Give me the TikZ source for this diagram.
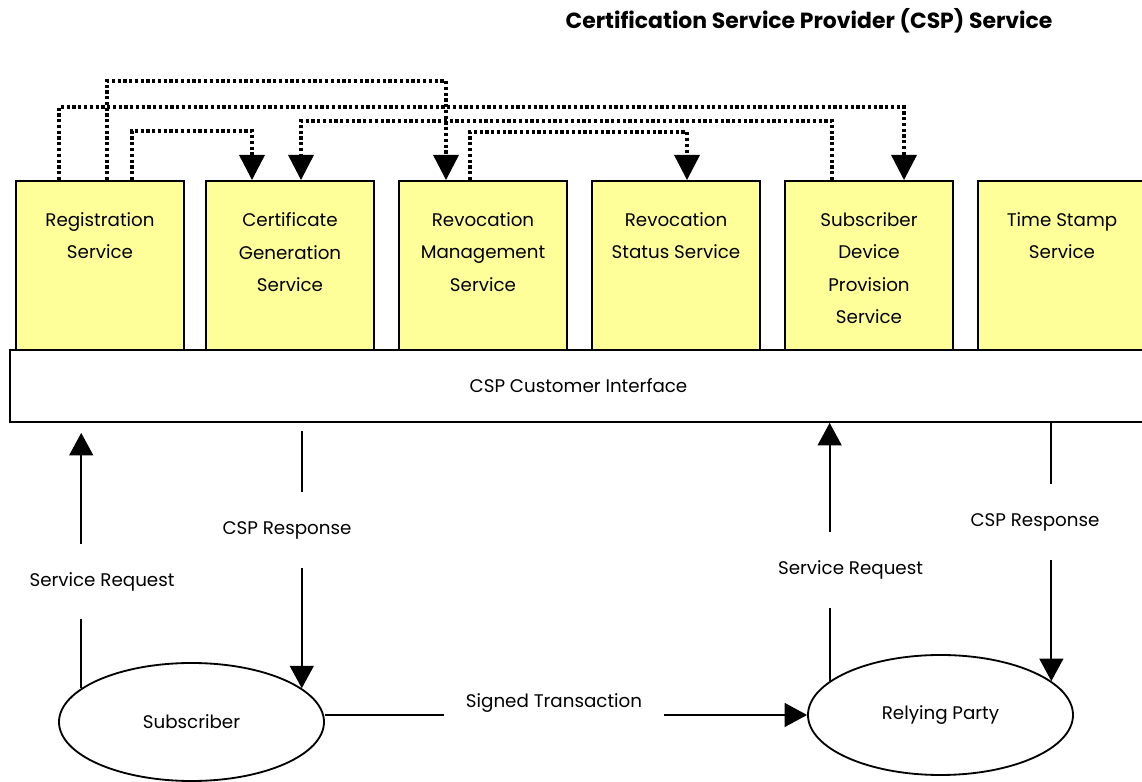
\documentclass[tikz,border=0pt]{standalone}
\usepackage{fontspec}
\setmainfont{Poppins}
\usepackage{tikz}
\usetikzlibrary{arrows.meta,shapes.geometric}
\definecolor{svcyellow}{RGB}{255,255,153}
\newcommand{\svctext}[1]{\parbox[c][4.225cm][t]{4.1cm}{\centering\vspace*{0.8cm}#1}}

\begin{document}
\begin{tikzpicture}[
      line width=1.3pt, >={Triangle[width=17pt,length=16pt]},
      every node/.style={font=\fontsize{13}{22.8}\selectfont},
      svc/.style={draw,rectangle,fill=svcyellow,inner sep=0pt,minimum width=4.2cm,minimum height=4.225cm},
      bar/.style={draw,rectangle,fill=white,minimum width=28.425cm,minimum height=1.8cm},
      party/.style={draw,ellipse,minimum width=6.625cm,minimum height=2.95cm},
      msg/.style={inner sep=0pt,minimum height=1.85cm},
      dep/.style={line width=2.3pt,dash pattern=on 2.3pt off 1.8pt,-{Triangle[width=18pt,length=18pt]}}
  ]
      \useasboundingbox (0,0) rectangle (28.55,19.55);

      % titel
      \node[font=\fontsize{15.6}{18}\selectfont\bfseries] (title) at (20.225,19.025) {Certification Service Provider (CSP) Service};

      % dienste
      \node[svc] (reg)    at (2.5,12.9125)    {\svctext{Registration\\Service}};
      \node[svc] (cert)   at (7.25,12.9125)   {\svctext{Certificate\\Generation\\Service}};
      \node[svc] (revm)   at (12.075,12.9125) {\svctext{Revocation\\Management\\Service}};
      \node[svc] (rstat)  at (16.9,12.9125)   {\svctext{Revocation\\Status Service}};
      \node[svc] (sdp)    at (21.725,12.9125) {\svctext{Subscriber\\Device\\Provision\\Service}};
      \node[svc] (tstamp) at (26.55,12.9125)  {\svctext{Time Stamp\\Service}};

      \node[bar] (iface) at (14.4625,9.9) {CSP Customer Interface};

      % abhaengigkeiten
      \draw[dep] ([xshift=0.175cm]reg.north) -- ++(0,2.475) -| ([xshift=-0.925cm]revm.north);
      \draw[dep] ([xshift=-1.025cm]reg.north) -- ++(0,1.825) -| ([xshift=0.875cm]sdp.north);
      \draw[dep] ([xshift=-0.925cm]sdp.north) -- ++(0,1.475) -| ([xshift=0.275cm]cert.north);
      \draw[dep] ([xshift=0.8cm]reg.north) -- ++(0,1.225) -| ([xshift=-0.95cm]cert.north);
      \draw[dep] ([xshift=-0.325cm]revm.north) -- ++(0,1.2) -| ([xshift=0.275cm]rstat.north);

      % teilnehmer
      \node[party] (sub) at (4.7875,1.5) {Subscriber};
      \node[party,minimum height=3cm] (rely) at (23.5125,1.675) {Relying Party};

      % nachrichten
      \node[msg] (reqa)  at (2.55,5.0125)  {Service Request};
      \node[msg] (respa) at (7.175,6.3)    {CSP Response};
      \node[msg] (reqb)  at (21.2625,5.3)  {Service Request};
      \node[msg] (respb) at (25.875,6.5)   {CSP Response};
      \node[msg,minimum width=5.45cm] (sign) at (13.85,1.975) {Signed Transaction};

      % verbindungen
      \draw (sub.163) -- (sub.163 |- reqa.south);
      \draw[->,shorten >=0.25cm] (sub.163 |- reqa.north) -- (sub.163 |- iface.south);
      \draw[shorten <=0.2cm] (sub.17 |- iface.south) -- (sub.17 |- respa.north);
      \draw[->] (sub.17 |- respa.south) -- (sub.17);
      \draw (rely.163) -- (rely.163 |- reqb.south);
      \draw[->] (rely.163 |- reqb.north) -- (rely.163 |- iface.south);
      \draw (rely.17 |- iface.south) -- (rely.17 |- respb.north);
      \draw[->] (rely.17 |- respb.south) -- (rely.17);
      \draw (sub.east |- rely.west) -- (sign.west |- rely.west);
      \draw[->] (sign.east |- rely.west) -- (rely.west);
  \end{tikzpicture}
\end{document}
